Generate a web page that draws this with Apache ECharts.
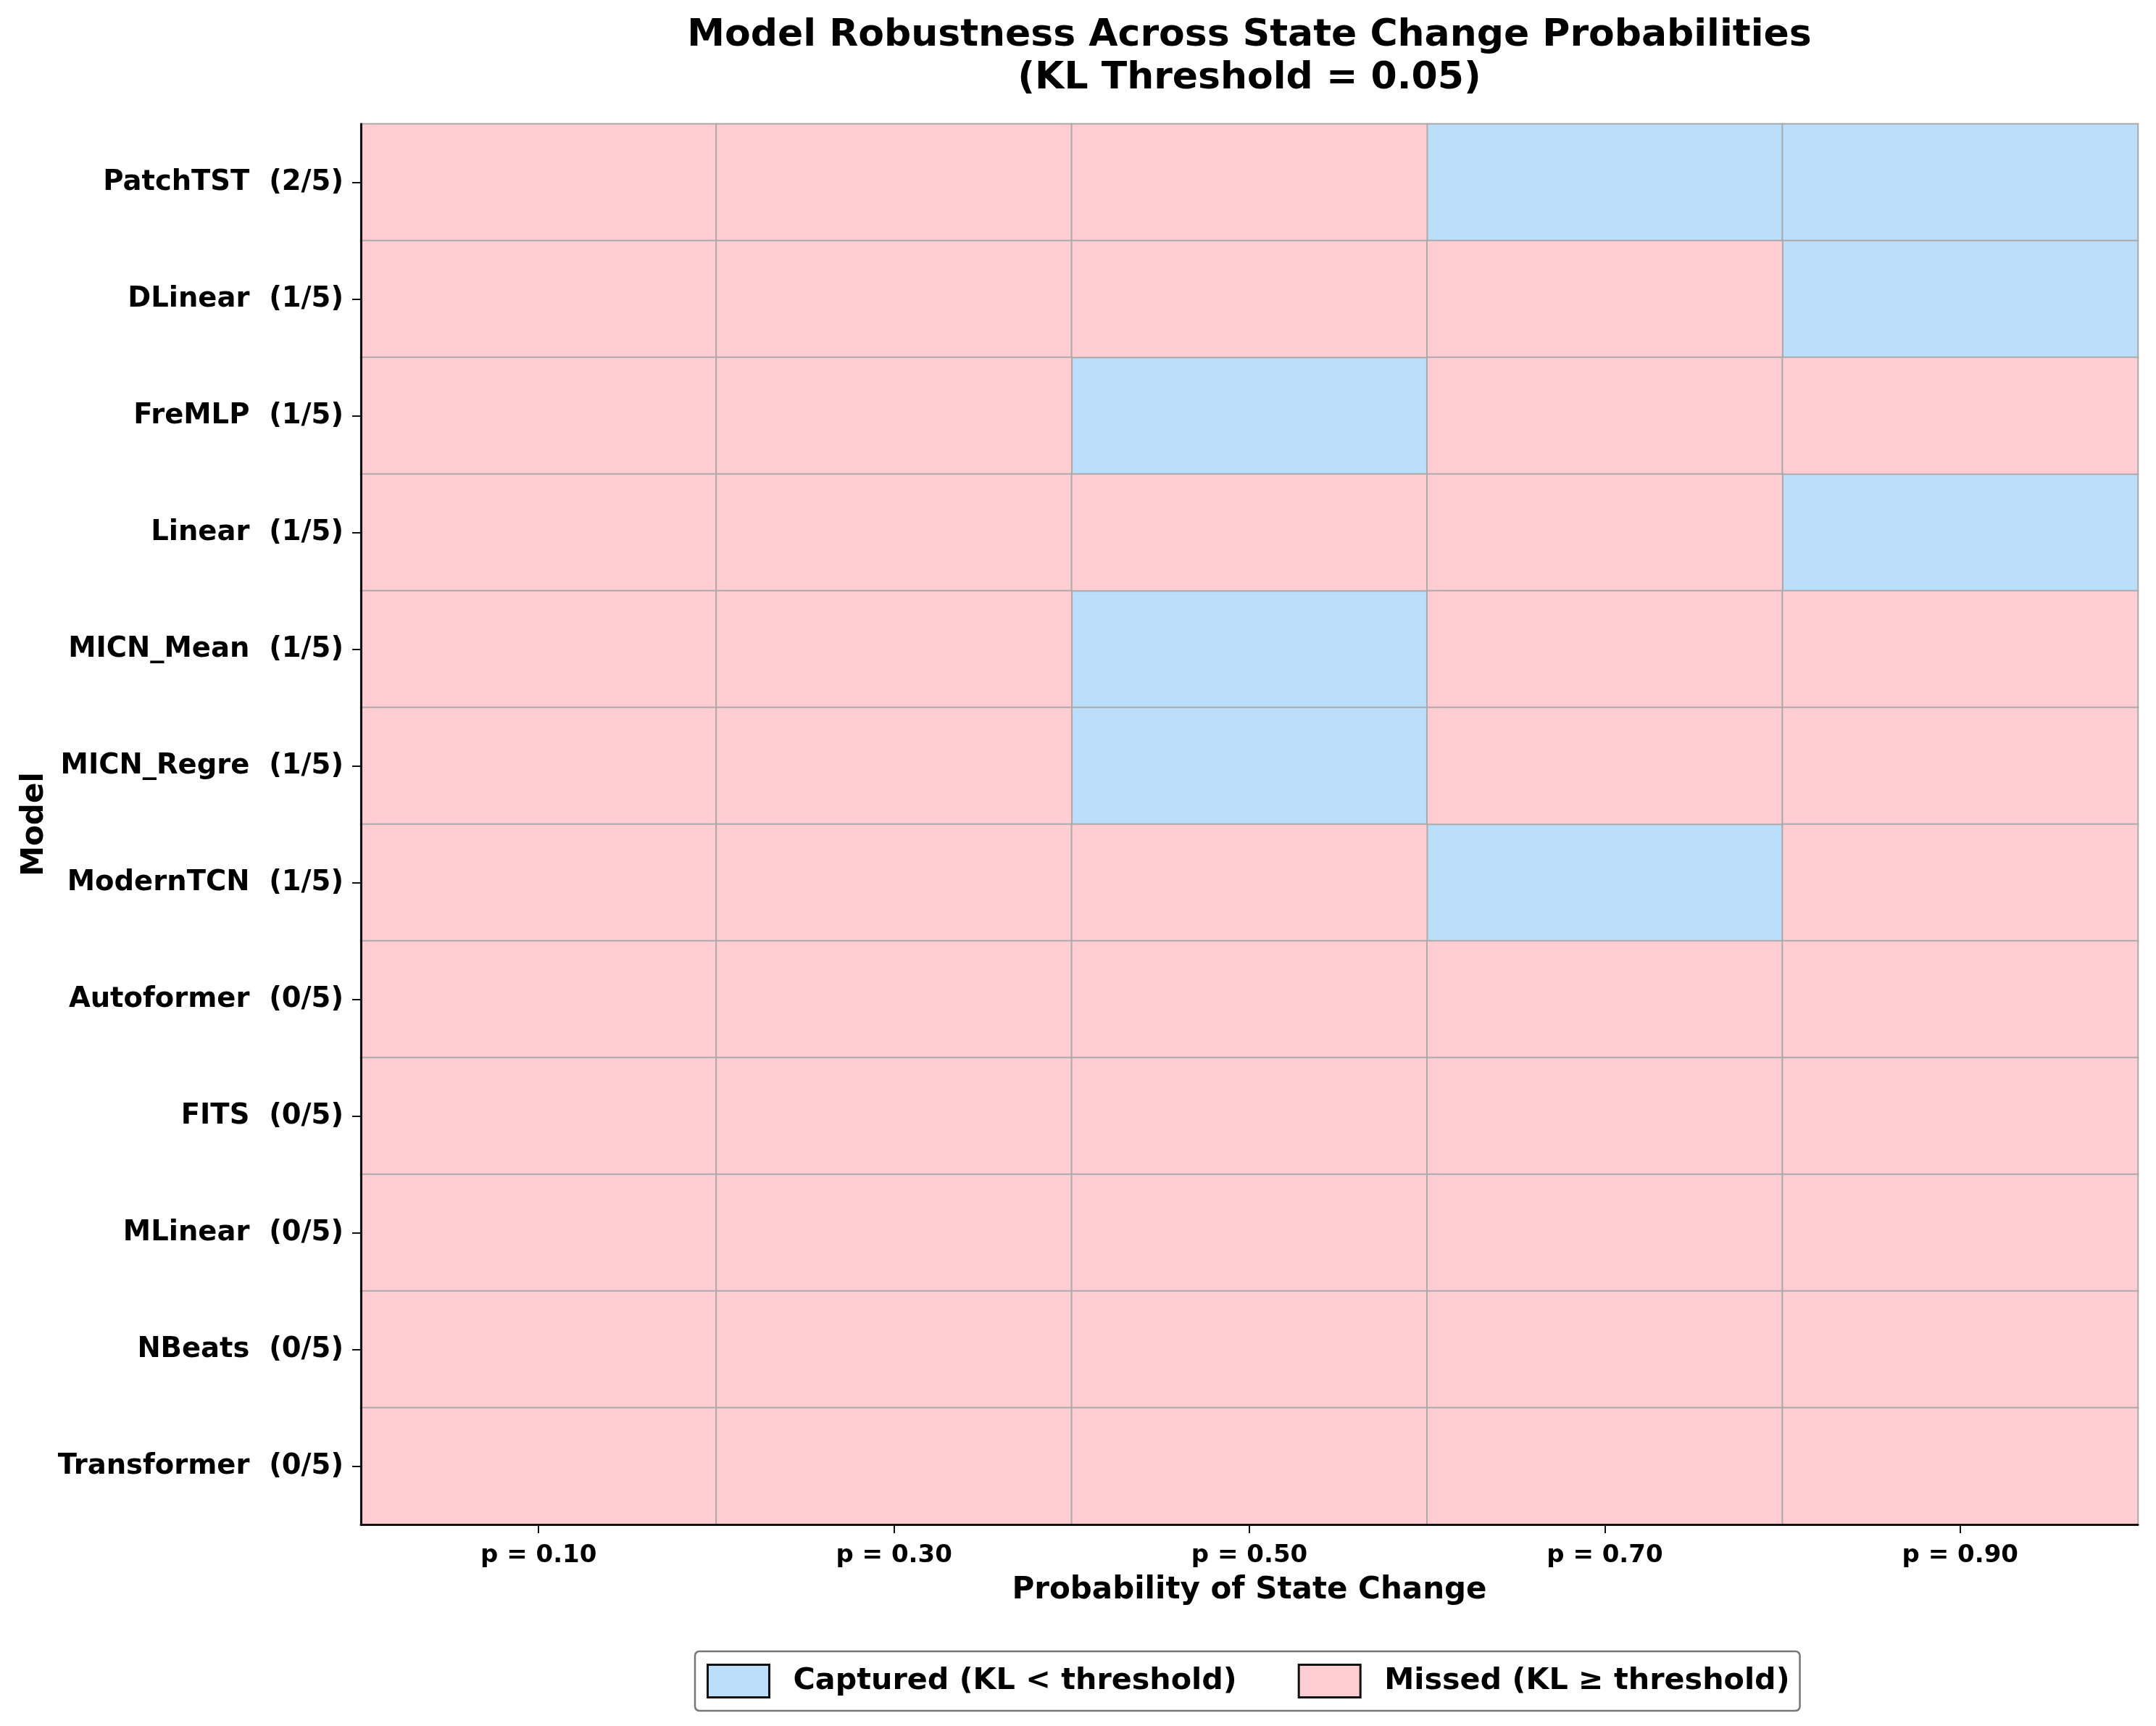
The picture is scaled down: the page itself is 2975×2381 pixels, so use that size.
<!DOCTYPE html>
<html>
<head>
<meta charset="utf-8">
<script src="https://cdn.jsdelivr.net/npm/echarts@6/dist/echarts.min.js"></script>
<style>
  html, body { margin: 0; padding: 0; background: #fff; }
  #chart { width: 2975px; height: 2381px; }
</style>
</head>
<body>
<div id="chart"></div>
<script>
  // probabilities of state change (x axis)
  const probabilities = ['p = 0.10', 'p = 0.30', 'p = 0.50', 'p = 0.70', 'p = 0.90'];
  // models, top to bottom
  const models = ['PatchTST', 'DLinear', 'FreMLP', 'Linear', 'MICN_Mean', 'MICN_Regre',
    'ModernTCN', 'Autoformer', 'FITS', 'MLinear', 'NBeats', 'Transformer'];
  // 1 = captured (KL < threshold), 0 = missed
  const captured = [
    [0, 0, 0, 1, 1],
    [0, 0, 0, 0, 1],
    [0, 0, 1, 0, 0],
    [0, 0, 0, 0, 1],
    [0, 0, 1, 0, 0],
    [0, 0, 1, 0, 0],
    [0, 0, 0, 1, 0],
    [0, 0, 0, 0, 0],
    [0, 0, 0, 0, 0],
    [0, 0, 0, 0, 0],
    [0, 0, 0, 0, 0],
    [0, 0, 0, 0, 0]
  ];

  const FONT = 'DejaVu Sans';
  const yLabels = models.map((m, i) =>
    m + '  (' + captured[i].reduce((a, b) => a + b, 0) + '/' + probabilities.length + ')');

  const hitCells = [], missCells = [];
  captured.forEach((row, yi) => row.forEach((v, xi) => {
    (v ? hitCells : missCells).push([xi, yi, v]);
  }));

  const chart = echarts.init(document.getElementById('chart'), null, { renderer: 'canvas' });

  const cellStyle = { borderColor: '#aaaaaa', borderWidth: 2 };

  chart.setOption({
    animation: false,
    backgroundColor: '#ffffff',
    graphic: [{
      type: 'text',
      x: 1724, y: 20,
      style: {
        text: 'Model Robustness Across State Change Probabilities\n(KL Threshold = 0.05)',
        align: 'center',
        textAlign: 'center',
        font: 'bold 52px "DejaVu Sans"',
        lineHeight: 59,
        fill: '#000'
      }
    }],
    grid: { left: 498, top: 171, right: 25, bottom: 278 },
    xAxis: {
      type: 'category',
      data: probabilities,
      z: 10,
      name: 'Probability of State Change',
      nameLocation: 'middle',
      nameGap: 70,
      nameTextStyle: { fontFamily: FONT, fontWeight: 'bold', fontSize: 42, color: '#000' },
      axisLine: { show: true, lineStyle: { color: '#111', width: 3 } },
      axisTick: { show: true, alignWithLabel: true, length: 12, lineStyle: { color: '#111', width: 2 } },
      axisLabel: { fontFamily: FONT, fontWeight: 'bold', fontSize: 34, color: '#000', margin: 26 },
      splitLine: { show: false }
    },
    yAxis: {
      type: 'category',
      data: yLabels,
      inverse: true,
      z: 10,
      name: 'Model',
      nameLocation: 'middle',
      nameGap: 429,
      nameTextStyle: { fontFamily: FONT, fontWeight: 'bold', fontSize: 42, color: '#000' },
      axisLine: { show: true, lineStyle: { color: '#111', width: 3 } },
      axisTick: { show: true, alignWithLabel: true, length: 12, lineStyle: { color: '#111', width: 2 } },
      axisLabel: { fontFamily: FONT, fontWeight: 'bold', fontSize: 38.5, color: '#000', margin: 24 },
      splitLine: { show: false }
    },
    legend: {
      left: 959,
      top: 2278,
      orient: 'horizontal',
      itemWidth: 85,
      itemHeight: 45,
      itemGap: 84,
      padding: [17, 14, 17, 16],
      borderColor: '#777',
      borderWidth: 2.5,
      borderRadius: 6,
      icon: 'rect',
      itemStyle: { borderColor: '#111', borderWidth: 3 },
      textStyle: { fontFamily: FONT, fontWeight: 'bold', fontSize: 41.3, color: '#000', padding: [0, 0, 0, 28] },
      data: ['Captured (KL < threshold)', 'Missed (KL \u2265 threshold)']
    },
    series: [{
      name: 'Captured (KL < threshold)',
      type: 'heatmap',
      data: hitCells,
      color: '#BBDEFB',
      itemStyle: Object.assign({ color: '#BBDEFB' }, cellStyle),
      emphasis: { disabled: true },
      progressive: 0
    }, {
      name: 'Missed (KL \u2265 threshold)',
      type: 'heatmap',
      data: missCells,
      color: '#FFCDD2',
      itemStyle: Object.assign({ color: '#FFCDD2' }, cellStyle),
      emphasis: { disabled: true },
      progressive: 0
    }]
  });
</script>
</body>
</html>
